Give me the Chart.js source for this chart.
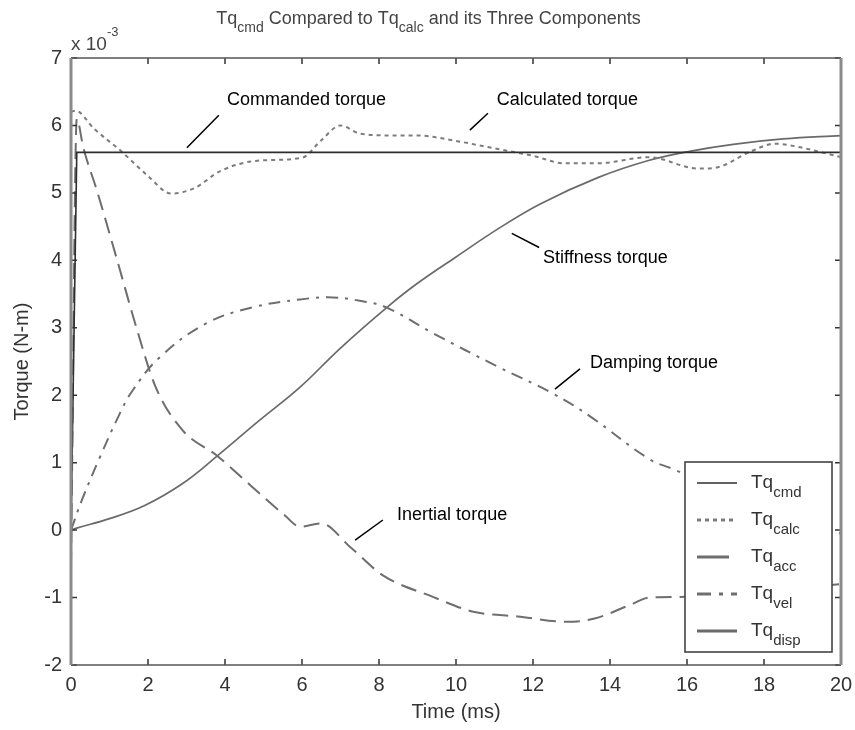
<!DOCTYPE html>
<html>
<head>
<meta charset="utf-8">
<script src="https://cdn.jsdelivr.net/npm/chart.js@4.4.0/dist/chart.umd.min.js"></script>
<style>
  html, body { margin: 0; padding: 0; background: #fff; }
  #wrap { width: 855px; height: 730px; }
</style>
</head>
<body>
<div id="wrap"><canvas id="myChart" width="855" height="730"></canvas></div>
<script>
// torque values are in units of 1e-3 N-m, time in ms
const xTicks = [0, 2, 4, 6, 8, 10, 12, 14, 16, 18, 20];
const yTicks = [-2, -1, 0, 1, 2, 3, 4, 5, 6, 7];

const timeCmd = [0, 0.15, 20];
const tqCmd = [0, 5.6, 5.6];

const timeCalc = [0, 0.12, 0.6, 1.3, 2.0, 2.6, 3.2, 3.9, 4.9, 6.0, 6.5, 7.0, 7.5, 8.5, 9.0, 10, 11, 12, 12.8, 13.7, 15.0, 16.3, 16.8, 17.6, 18.3, 18.9, 19.5, 20];
const tqCalc = [6.2, 6.22, 5.95, 5.62, 5.25, 4.99, 5.07, 5.33, 5.48, 5.52, 5.78, 6.0, 5.88, 5.85, 5.85, 5.77, 5.66, 5.55, 5.44, 5.44, 5.53, 5.36, 5.38, 5.6, 5.73, 5.68, 5.6, 5.53];

const timeAcc = [0, 0.15, 0.32, 0.67, 1.2, 1.7, 2.2, 2.9, 3.8, 4.65, 5.55, 5.95, 6.5, 7.25, 8.1, 9.4, 10.45, 11.6, 12.9, 13.6, 14.6, 15.0, 15.8, 17, 18, 19, 20];
const tqAcc = [-0.55, 6.1, 5.67, 5.04, 4.0, 3.0, 2.12, 1.48, 1.1, 0.67, 0.22, 0.05, 0.1, -0.25, -0.67, -0.99, -1.21, -1.28, -1.36, -1.31, -1.09, -1.0, -0.99, -0.95, -0.9, -0.85, -0.8];

const timeVel = [0, 0.28, 0.75, 1.27, 1.6, 2.3, 3.5, 4.7, 5.95, 6.8, 7.5, 8.2, 9.4, 11.1, 12.5, 13.5, 15.0, 15.7, 17, 18, 19, 20];
const tqVel = [0, 0.44, 1.08, 1.73, 2.07, 2.56, 3.06, 3.3, 3.42, 3.45, 3.4, 3.3, 2.92, 2.42, 2.03, 1.68, 1.06, 0.89, 0.55, 0.3, 0.1, -0.05];

const timeDisp = [0, 0.15, 1.0, 1.9, 2.9, 3.8, 4.9, 5.95, 7.0, 8.2, 9.0, 10, 11.1, 12.2, 13.7, 15.0, 16.1, 17.2, 18.5, 20];
const tqDisp = [0, 0.03, 0.17, 0.36, 0.69, 1.1, 1.63, 2.12, 2.7, 3.3, 3.66, 4.05, 4.47, 4.84, 5.23, 5.48, 5.62, 5.72, 5.8, 5.85];

const seriesLabels = ["Tq_cmd", "Tq_calc", "Tq_acc", "Tq_vel", "Tq_disp"];
const titleText = "Tq_cmd Compared to Tq_calc and its Three Components";

// callouts, placed in data units
const notes = [
  { text: "Commanded torque", at: [4.05, 6.37], from: [3.01, 5.67], to: [3.84, 6.15] },
  { text: "Calculated torque", at: [11.06, 6.37], from: [10.36, 5.93], to: [10.83, 6.18] },
  { text: "Stiffness torque", at: [12.26, 4.04], from: [11.45, 4.4], to: [12.16, 4.19] },
  { text: "Damping torque", at: [13.48, 2.47], from: [12.57, 2.09], to: [13.22, 2.39] },
  { text: "Inertial torque", at: [8.47, 0.22], from: [7.38, -0.15], to: [8.1, 0.15] }
];

function pairs(xs, ys) {
  return xs.map((x, i) => ({ x: x, y: ys[i] }));
}

const FONT = "Liberation Sans, Arial, Helvetica, sans-serif";

// draws "Tq_cmd" style text with the part after "_" as a subscript
function subText(ctx, str, x, y, size, subSize, subDrop, measureOnly) {
  const parts = str.split(/(Tq_\w+)/).filter(p => p.length);
  let w = 0;
  parts.forEach(p => {
    let main = p, sub = "";
    if (/^Tq_\w+$/.test(p)) {
      main = "Tq";
      sub = p.slice(3);
    }
    ctx.font = size + "px " + FONT;
    if (!measureOnly) ctx.fillText(main, x + w, y);
    w += ctx.measureText(main).width;
    if (sub) {
      ctx.font = subSize + "px " + FONT;
      if (!measureOnly) ctx.fillText(sub, x + w, y + subDrop);
      w += ctx.measureText(sub).width;
    }
  });
  return w;
}

const decorPlugin = {
  id: "decor",
  afterDatasetsDraw(chart) {
    const ctx = chart.ctx;
    const a = chart.chartArea;
    const xs = chart.scales.x, ys = chart.scales.y;
    ctx.save();

    // inward tick marks on all four sides
    ctx.strokeStyle = "#333";
    ctx.lineWidth = 1.5;
    ctx.beginPath();
    xTicks.forEach(t => {
      const px = xs.getPixelForValue(t);
      ctx.moveTo(px, a.bottom); ctx.lineTo(px, a.bottom - 6);
      ctx.moveTo(px, a.top); ctx.lineTo(px, a.top + 6);
    });
    yTicks.forEach(t => {
      const py = ys.getPixelForValue(t);
      ctx.moveTo(a.left, py); ctx.lineTo(a.left + 6, py);
      ctx.moveTo(a.right, py); ctx.lineTo(a.right - 6, py);
    });
    ctx.stroke();

    // box
    ctx.strokeStyle = "#555";
    ctx.lineWidth = 1.6;
    ctx.beginPath();
    ctx.moveTo(a.left, a.top); ctx.lineTo(a.right, a.top);
    ctx.moveTo(a.left, a.bottom); ctx.lineTo(a.right, a.bottom);
    ctx.stroke();
    ctx.strokeStyle = "#8a8a8a";
    ctx.lineWidth = 3;
    ctx.beginPath();
    ctx.moveTo(a.left, a.top); ctx.lineTo(a.left, a.bottom);
    ctx.moveTo(a.right, a.top); ctx.lineTo(a.right, a.bottom);
    ctx.stroke();

    // callouts
    ctx.fillStyle = "#000";
    ctx.strokeStyle = "#000";
    ctx.lineWidth = 1.5;
    ctx.textBaseline = "middle";
    ctx.font = "18px " + FONT;
    notes.forEach(n => {
      ctx.beginPath();
      ctx.moveTo(xs.getPixelForValue(n.from[0]), ys.getPixelForValue(n.from[1]));
      ctx.lineTo(xs.getPixelForValue(n.to[0]), ys.getPixelForValue(n.to[1]));
      ctx.stroke();
      ctx.fillText(n.text, xs.getPixelForValue(n.at[0]), ys.getPixelForValue(n.at[1]));
    });

    // legend box inside the plot
    const lw = 147, lh = 190;
    const lx = a.right - 9 - lw, ly = a.bottom - 13 - lh;
    ctx.fillStyle = "#fff";
    ctx.fillRect(lx, ly, lw, lh);
    ctx.strokeStyle = "#444";
    ctx.lineWidth = 1.6;
    ctx.strokeRect(lx, ly, lw, lh);
    chart.data.datasets.forEach((ds, i) => {
      const cy = ly + 21 + i * 37;
      ctx.strokeStyle = ds.borderColor;
      ctx.lineWidth = i === 0 ? 1.6 : 3;
      ctx.setLineDash(i === 1 ? [4, 4] : (i === 3 ? [14, 8, 4, 8] : []));
      ctx.beginPath();
      ctx.moveTo(lx + 12, cy);
      ctx.lineTo(lx + (i === 2 ? 44 : 52), cy);
      ctx.stroke();
      ctx.setLineDash([]);
      ctx.fillStyle = "#333";
      ctx.textBaseline = "alphabetic";
      subText(ctx, ds.label, lx + 66, cy + 5, 19, 15, 9);
    });

    ctx.restore();
  },
  afterDraw(chart) {
    const ctx = chart.ctx;
    const a = chart.chartArea;
    ctx.save();
    ctx.fillStyle = "#444";
    ctx.textBaseline = "alphabetic";
    const w = subText(ctx, titleText, 0, 0, 18, 14, 8, true);
    subText(ctx, titleText, chart.width / 2 + 1 - w / 2, 24, 18, 14, 8);

    // exponent label
    ctx.font = "19px " + FONT;
    ctx.fillText("x 10", a.left, 50);
    const w2 = ctx.measureText("x 10").width;
    ctx.font = "13px " + FONT;
    ctx.fillText("-3", a.left + w2, 36);
    ctx.restore();
  }
};

const ctx = document.getElementById("myChart").getContext("2d");

new Chart(ctx, {
  type: "line",
  data: {
    datasets: [
      {
        label: seriesLabels[0],
        data: pairs(timeCmd, tqCmd),
        borderColor: "#2e2e2e",
        borderWidth: 1.6,
        tension: 0
      },
      {
        label: seriesLabels[1],
        data: pairs(timeCalc, tqCalc),
        borderColor: "#7c7c7c",
        borderWidth: 2,
        borderDash: [4, 4],
        cubicInterpolationMode: "monotone"
      },
      {
        label: seriesLabels[2],
        data: pairs(timeAcc, tqAcc),
        borderColor: "#6e6e6e",
        borderWidth: 2,
        borderDash: [16, 8],
        cubicInterpolationMode: "monotone"
      },
      {
        label: seriesLabels[3],
        data: pairs(timeVel, tqVel),
        borderColor: "#6e6e6e",
        borderWidth: 2,
        borderDash: [12, 7, 3, 7],
        tension: 0.4
      },
      {
        label: seriesLabels[4],
        data: pairs(timeDisp, tqDisp),
        borderColor: "#6a6a6a",
        borderWidth: 1.7,
        tension: 0.4
      }
    ]
  },
  options: {
    responsive: false,
    animation: false,
    elements: { point: { radius: 0 } },
    layout: { padding: { top: 58, right: 14, left: 0, bottom: 0 } },
    plugins: {
      legend: { display: false },
      tooltip: { enabled: false },
      title: { display: false }
    },
    scales: {
      x: {
        type: "linear",
        min: 0,
        max: 20,
        afterBuildTicks: (s) => { s.ticks = xTicks.map(v => ({ value: v })); },
        afterFit: (s) => { s.height = 65; s.paddingLeft = 0; s.paddingRight = 0; },
        grid: { display: false, drawTicks: false },
        border: { display: false },
        ticks: { color: "#333", font: { size: 20, family: FONT }, padding: 8, maxRotation: 0 },
        title: {
          display: true,
          text: "Time (ms)",
          color: "#333",
          font: { size: 20, family: FONT },
          padding: { bottom: 6 }
        }
      },
      y: {
        type: "linear",
        min: -2,
        max: 7,
        afterBuildTicks: (s) => { s.ticks = yTicks.map(v => ({ value: v })); },
        afterFit: (s) => { s.width = 71; s.paddingTop = 0; s.paddingBottom = 0; },
        grid: { display: false, drawTicks: false },
        border: { display: false },
        ticks: { color: "#333", font: { size: 20, family: FONT }, padding: 9 },
        title: {
          display: true,
          text: "Torque (N-m)",
          color: "#333",
          font: { size: 20, family: FONT },
          padding: { top: 10 }
        }
      }
    }
  },
  plugins: [decorPlugin]
});
</script>
</body>
</html>
